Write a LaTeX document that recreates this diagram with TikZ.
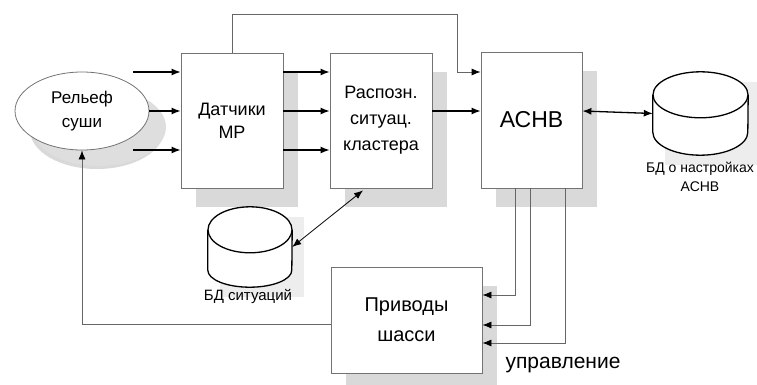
\documentclass[tikz,border=0pt]{standalone}
\usepackage{fontspec}
\setmainfont{Liberation Sans}
\usetikzlibrary{arrows.meta,shapes.geometric,shadows}

\begin{document}
\begin{tikzpicture}[x=1pt,y=-1pt,
    blk/.style={draw=black!55,line width=0.8pt,fill=white,align=center,inner sep=2pt,
      drop shadow={shadow xshift=15pt,shadow yshift=-19pt,fill=black!15,opacity=1}},
    dbase/.style={inner sep=0pt},
    cyl/.style={draw,line width=1.3pt,fill=white},
    arr/.style={-{Latex[length=9pt,width=7pt]},line width=1.3pt},
    darr/.style={{Latex[length=9pt,width=7pt]}-{Latex[length=9pt,width=7pt]}},
    ln/.style={draw=black!60,line width=0.8pt},
    tip/.style={-{Latex[length=9pt,width=7pt,color=black]}}]
  \useasboundingbox (0,0) rectangle (757,385);
  % blocks
  \node[blk,ellipse,minimum width=134pt,minimum height=78pt,
    drop shadow={shadow xshift=17pt,shadow yshift=-16pt,fill=black!13,opacity=1},
    font=\fontsize{17}{24}\selectfont] (rel) at (82,111) {Рельеф\\суши};
  \node[blk,minimum width=102pt,minimum height=135pt,font=\fontsize{18}{23}\selectfont] (dat) at (232,120.5) {Датчики\\МР};
  \node[blk,minimum width=102pt,minimum height=135pt,font=\fontsize{18}{26}\selectfont] (ras) at (381,120.5) {Распозн.\\ситуац.\\кластера};
  \node[blk,minimum width=101pt,minimum height=136pt,font=\fontsize{23}{26}\selectfont] (asnv) at (531.5,120) {АСНВ};
  \node[blk,minimum width=151pt,minimum height=106pt,font=\fontsize{20}{30}\selectfont] (priv) at (406.5,320) {Приводы\\шасси};
  % databases
  \node[dbase,minimum width=95pt,minimum height=83pt] (dbn) at (700.5,113.5) {};
  \node[dbase,minimum width=84pt,minimum height=80pt] (dbs) at (250,247) {};
  \fill[black!7] ([shift={(12pt,-10pt)}]dbn.north west) rectangle ([shift={(12pt,-10pt)}]dbn.south east);
  \fill[black!7] ([shift={(12pt,-10pt)}]dbs.north west) rectangle ([shift={(12pt,-10pt)}]dbs.south east);
  \draw[cyl] ([yshift=-23pt]dbn.north west) -- ([yshift=23pt]dbn.south west)
    arc[start angle=180,end angle=0,x radius=47.5,y radius=23] -- ([yshift=-23pt]dbn.north east);
  \draw[cyl] ([yshift=-23pt]dbn.north) ellipse[x radius=47.5,y radius=23];
  \draw[cyl] ([yshift=-23pt]dbs.north west) -- ([yshift=17pt]dbs.south west)
    arc[start angle=180,end angle=0,x radius=42,y radius=17] -- ([yshift=-23pt]dbs.north east);
  \draw[cyl] ([yshift=-23pt]dbs.north) ellipse[x radius=42,y radius=23];
  \node[font=\fontsize{14}{19}\selectfont,align=center] (dbnl) at (700,177) {БД о настройках\\АСНВ};
  \node[font=\fontsize{15}{19}\selectfont] (dbsl) at (248,296) {БД ситуаций};
  \node[font=\fontsize{21}{24}\selectfont] (upr) at (563,365) {управление};
  % free ends
  \coordinate (in1) at (133,72);
  \coordinate (in2) at (133,111);
  \coordinate (in3) at (133,150);
  \coordinate (top) at (457,14);
  \coordinate (c1) at (515,295);
  \coordinate (c2) at (530,325);
  \coordinate (c3) at (565,343);
  \coordinate (fb) at (82,324);
  % connectors
  \draw[arr] (in1) -- (in1 -| dat.west);
  \draw[arr] (rel.east) -- (rel.east -| dat.west);
  \draw[arr] (in3) -- (in3 -| dat.west);
  \draw[arr] (dat.east |- in1) -- (ras.west |- in1);
  \draw[arr] (dat.east |- in2) -- (ras.west |- in2);
  \draw[arr] (dat.east |- in3) -- (ras.west |- in3);
  \draw[arr] (ras.east |- in2) -- (asnv.west |- in2);
  \draw[ln,tip] (dat.north) |- (top) |- (asnv.west |- in1);
  \draw[darr,line width=1.3pt] (asnv.east |- in2) -- (dbn.west);
  \draw[darr,line width=0.8pt] (dbs.east) -- ([xshift=-18pt,yshift=-2pt]ras.south);
  \draw[ln,tip] (asnv.south -| c1) -- (c1) -- (c1 -| priv.east);
  \draw[ln,tip] (asnv.south -| c2) -- (c2) -- (c2 -| priv.east);
  \draw[ln,tip] (asnv.south -| c3) -- (c3) -- (c3 -| priv.east);
  \draw[ln,tip] (priv.west |- fb) -- (fb) -- (rel.south);
\end{tikzpicture}
\end{document}
